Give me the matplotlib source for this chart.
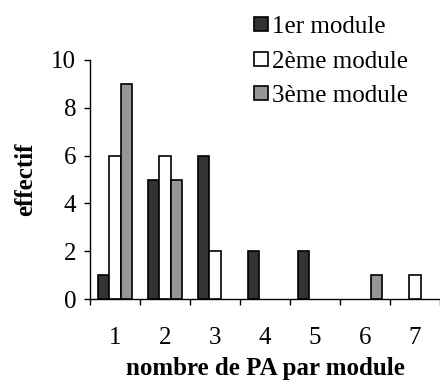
import matplotlib
matplotlib.use("Agg")
import matplotlib.pyplot as plt
import numpy as np

categories = [1, 2, 3, 4, 5, 6, 7]
series_names = ["1er module", "2ème module", "3ème module"]
module1 = [1, 5, 6, 2, 2, 0, 0]
module2 = [6, 6, 2, 0, 0, 0, 1]
module3 = [9, 5, 0, 0, 0, 1, 0]
colors = ["#333333", "#ffffff", "#969696"]
yticks = [0, 2, 4, 6, 8, 10]

plt.rcParams['font.family'] = ['Liberation Serif', 'DejaVu Serif']

fig = plt.figure(figsize=(4.4, 3.89), dpi=100)
ax = fig.add_axes([90/440, (389-299)/389, 350/440, (299-60)/389])

x = np.array(categories, dtype=float)
w = 0.233
for i, (vals, name, c) in enumerate(zip([module1, module2, module3], series_names, colors)):
    v = np.array(vals, dtype=float)
    mask = v > 0
    ax.bar((x + (i - 1) * w)[mask], v[mask], width=w, color=c, edgecolor="black",
           linewidth=1.2, label=name, zorder=3)

ax.set_xlim(0.5, 7.5)
ax.set_ylim(0, 10)
ax.set_yticks(yticks)
ax.set_yticklabels([str(v) for v in yticks], fontsize=18)
ax.set_xticks(np.arange(0.5, 8.0, 1.0))
ax.set_xticklabels([])
ax.set_xticks(x, minor=True)
ax.set_xticklabels([str(c) for c in categories], minor=True, fontsize=18)
ax.tick_params(axis='x', which='major', direction='out', length=4, width=1)
ax.tick_params(axis='x', which='minor', length=0, pad=20)
ax.tick_params(axis='y', direction='out', length=4, width=1, pad=6)

for s in ['top', 'right']:
    ax.spines[s].set_visible(False)
for s in ['left', 'bottom']:
    ax.spines[s].set_linewidth(1)

ax.set_xlabel("nombre de PA par module", fontsize=18, fontweight='bold', labelpad=6)
ax.set_ylabel("effectif", fontsize=18, fontweight='bold', labelpad=10)

leg = fig.legend(loc='upper left', bbox_to_anchor=(244/440, 1 - 6/389),
                 fontsize=18, frameon=False, handlelength=0.56, handleheight=0.48,
                 handletextpad=0.15, labelspacing=0.5, borderaxespad=0)

fig.savefig("out.png", dpi=100)
